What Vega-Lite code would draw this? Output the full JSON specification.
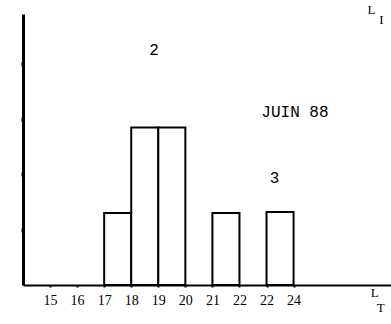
{
  "$schema": "https://vega.github.io/schema/vega-lite/v6.json",
  "width": 368,
  "height": 271,
  "autosize": {"type": "none"},
  "padding": {"left": 23, "top": 14, "right": 0, "bottom": 39},
  "background": "white",
  "config": {"view": {"stroke": null}},
  "datasets": {
    "bars": [
      {"start": 17, "end": 18, "value": 1.3},
      {"start": 18, "end": 19, "value": 2.85},
      {"start": 19, "end": 20, "value": 2.85},
      {"start": 21, "end": 22, "value": 1.3},
      {"start": 23, "end": 24, "value": 1.32}
    ],
    "notes": [
      {"x": 18.84, "y": 4.25, "text": "2"},
      {"x": 24.05, "y": 3.13, "text": "JUIN 88"},
      {"x": 23.3, "y": 1.93, "text": "3"}
    ],
    "titles": [
      {"x": 26.88, "y": 4.98, "text": "L"},
      {"x": 27.25, "y": 4.8, "text": "I"},
      {"x": 27.0, "y": -0.15, "text": "L"},
      {"x": 27.22, "y": -0.42, "text": "T"}
    ]
  },
  "layer": [
    {
      "data": {"name": "bars"},
      "mark": {"type": "rect", "fill": "white", "stroke": "black", "strokeWidth": 2},
      "encoding": {
        "x": {
          "field": "start", "type": "quantitative",
          "scale": {"domain": [14, 27.6], "nice": false, "zero": false},
          "axis": {
            "title": null, "values": [15, 16, 17, 18, 19, 20, 21, 22, 23, 24],
            "labelExpr": "datum.value == 23 ? '22' : datum.label",
            "grid": false, "domainColor": "black", "domainWidth": 2,
            "tickColor": "black", "tickSize": 2, "tickWidth": 2,
            "labelFont": "Liberation Serif", "labelFontSize": 14, "labelColor": "black",
            "labelPadding": 6
          }
        },
        "x2": {"field": "end"},
        "y": {
          "field": "value", "type": "quantitative",
          "scale": {"domain": [0, 4.9], "nice": false},
          "axis": {
            "title": null, "values": [1, 2, 3, 4], "labels": false, "grid": false,
            "domainColor": "black", "domainWidth": 3,
            "tickColor": "black", "tickSize": 2, "tickWidth": 4
          }
        },
        "y2": {"datum": 0}
      }
    },
    {
      "data": {"name": "notes"},
      "mark": {"type": "text", "font": "Liberation Mono", "fontSize": 16, "color": "black", "align": "center", "baseline": "middle"},
      "encoding": {
        "x": {"field": "x", "type": "quantitative"},
        "y": {"field": "y", "type": "quantitative"},
        "text": {"field": "text"}
      }
    },
    {
      "data": {"name": "titles"},
      "mark": {"type": "text", "font": "Liberation Serif", "fontSize": 13, "color": "black", "align": "center", "baseline": "middle"},
      "encoding": {
        "x": {"field": "x", "type": "quantitative"},
        "y": {"field": "y", "type": "quantitative"},
        "text": {"field": "text"}
      }
    }
  ]
}
